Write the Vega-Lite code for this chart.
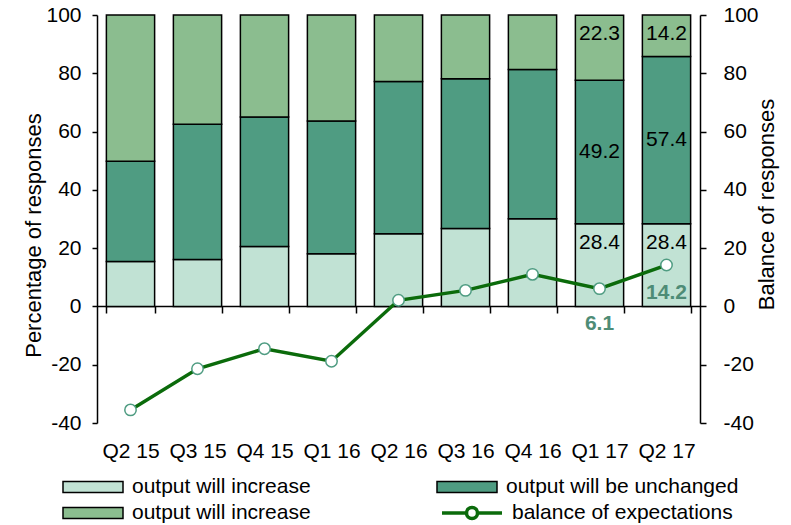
{
  "$schema": "https://vega.github.io/schema/vega-lite/v6.json",
  "width": 603,
  "height": 408,
  "autosize": {"type": "none"},
  "padding": {"left": 97, "top": 15, "right": 91, "bottom": 102},
  "background": "white",
  "config": {
    "font": "Liberation Sans",
    "view": {"stroke": null},
    "axis": {
      "labelFont": "Liberation Sans",
      "titleFont": "Liberation Sans",
      "labelColor": "black",
      "titleColor": "black",
      "domainColor": "black",
      "tickColor": "black",
      "grid": false,
      "labelFontSize": 21,
      "titleFontSize": 22,
      "titleFontWeight": "normal",
      "domainWidth": 1.5,
      "tickWidth": 1.5
    },
    "legend": {
      "labelFont": "Liberation Sans",
      "labelFontSize": 21,
      "labelColor": "black",
      "labelLimit": 0,
      "padding": 0
    }
  },
  "datasets": {
    "bars": [
      {"q": "Q2 15", "cat": "increase", "k": 1, "v": 15.4},
      {"q": "Q2 15", "cat": "unchanged", "k": 2, "v": 34.4},
      {"q": "Q2 15", "cat": "decrease", "k": 3, "v": 50.2},
      {"q": "Q3 15", "cat": "increase", "k": 1, "v": 16.1},
      {"q": "Q3 15", "cat": "unchanged", "k": 2, "v": 46.4},
      {"q": "Q3 15", "cat": "decrease", "k": 3, "v": 37.5},
      {"q": "Q4 15", "cat": "increase", "k": 1, "v": 20.6},
      {"q": "Q4 15", "cat": "unchanged", "k": 2, "v": 44.4},
      {"q": "Q4 15", "cat": "decrease", "k": 3, "v": 35.0},
      {"q": "Q1 16", "cat": "increase", "k": 1, "v": 18.1},
      {"q": "Q1 16", "cat": "unchanged", "k": 2, "v": 45.5},
      {"q": "Q1 16", "cat": "decrease", "k": 3, "v": 36.4},
      {"q": "Q2 16", "cat": "increase", "k": 1, "v": 24.9},
      {"q": "Q2 16", "cat": "unchanged", "k": 2, "v": 52.3},
      {"q": "Q2 16", "cat": "decrease", "k": 3, "v": 22.8},
      {"q": "Q3 16", "cat": "increase", "k": 1, "v": 26.7},
      {"q": "Q3 16", "cat": "unchanged", "k": 2, "v": 51.4},
      {"q": "Q3 16", "cat": "decrease", "k": 3, "v": 21.9},
      {"q": "Q4 16", "cat": "increase", "k": 1, "v": 30.1},
      {"q": "Q4 16", "cat": "unchanged", "k": 2, "v": 51.2},
      {"q": "Q4 16", "cat": "decrease", "k": 3, "v": 18.7},
      {"q": "Q1 17", "cat": "increase", "k": 1, "v": 28.4},
      {"q": "Q1 17", "cat": "unchanged", "k": 2, "v": 49.2},
      {"q": "Q1 17", "cat": "decrease", "k": 3, "v": 22.3},
      {"q": "Q2 17", "cat": "increase", "k": 1, "v": 28.4},
      {"q": "Q2 17", "cat": "unchanged", "k": 2, "v": 57.4},
      {"q": "Q2 17", "cat": "decrease", "k": 3, "v": 14.2}
    ],
    "bal": [
      {"q": "Q2 15", "b": -35.5},
      {"q": "Q3 15", "b": -21.4},
      {"q": "Q4 15", "b": -14.5},
      {"q": "Q1 16", "b": -18.8},
      {"q": "Q2 16", "b": 2.1},
      {"q": "Q3 16", "b": 5.5},
      {"q": "Q4 16", "b": 11.0},
      {"q": "Q1 17", "b": 6.1},
      {"q": "Q2 17", "b": 14.2}
    ]
  },
  "layer": [
    {
      "data": {"name": "bars"},
      "layer": [
        {
          "mark": {"type": "bar", "stroke": "black", "strokeWidth": 1.5},
          "encoding": {
            "x": {
              "field": "q", "type": "nominal", "sort": null,
              "scale": {"domain": ["Q2 15", "Q3 15", "Q4 15", "Q1 16", "Q2 16", "Q3 16", "Q4 16", "Q1 17", "Q2 17"], "paddingInner": 0.28, "paddingOuter": 0.14},
              "axis": {"title": null, "orient": "bottom", "offset": -117, "labelPadding": 127, "tickBand": "extent", "tickSize": 7, "labelAngle": 0}
            },
            "y": {
              "field": "v", "type": "quantitative", "stack": "zero",
              "scale": {"domain": [-40, 100], "nice": false},
              "axis": {"title": "Percentage of responses", "values": [-40, -20, 0, 20, 40, 60, 80, 100], "labelExpr": "datum.value < 0 ? '-' + abs(datum.value) : '' + datum.value", "tickSize": 5, "labelPadding": 11, "titleX": -64, "titleY": 220, "titleAngle": 270, "titleBaseline": "middle", "titleAlign": "center"}
            },
            "fill": {
              "field": "cat", "type": "nominal",
              "scale": {"domain": ["increase", "unchanged", "decrease"], "range": ["#c1e2d4", "#4f9c82", "#8bbd8f"]},
              "legend": {
                "title": null, "orient": "none", "direction": "horizontal", "legendX": -15, "legendY": 461,
                "columns": 2, "columnPadding": 123, "rowPadding": 5,
                "symbolType": "M-3,-0.55H3V0.55H-3Z", "symbolSize": 400,
                "symbolStrokeColor": "black", "symbolStrokeWidth": 1.5, "symbolOpacity": 1,
                "labelOffset": 28,
                "labelExpr": "datum.value == 'unchanged' ? 'output will be unchanged' : 'output will increase'"
              }
            },
            "order": {"field": "k", "type": "quantitative"}
          }
        },
        {
          "transform": [
            {"stack": "v", "groupby": ["q"], "sort": [{"field": "k", "order": "ascending"}], "as": ["y0", "y1"]},
            {"filter": "(datum.q == 'Q1 17' || datum.q == 'Q2 17') && datum.cat != 'unchanged'"}
          ],
          "mark": {"type": "text", "fontSize": 21, "color": "black", "baseline": "middle", "dy": 19},
          "encoding": {
            "x": {"field": "q", "type": "nominal", "sort": null},
            "y": {"field": "y1", "type": "quantitative", "title": "Percentage of responses"},
            "text": {"field": "v", "type": "quantitative", "format": ".1f"}
          }
        },
        {
          "transform": [
            {"stack": "v", "groupby": ["q"], "sort": [{"field": "k", "order": "ascending"}], "as": ["y0", "y1"]},
            {"filter": "(datum.q == 'Q1 17' || datum.q == 'Q2 17') && datum.cat == 'unchanged'"},
            {"calculate": "(datum.y0 + datum.y1) / 2", "as": "ym"}
          ],
          "mark": {"type": "text", "fontSize": 21, "color": "black", "baseline": "middle"},
          "encoding": {
            "x": {"field": "q", "type": "nominal", "sort": null},
            "y": {"field": "ym", "type": "quantitative", "title": "Percentage of responses"},
            "text": {"field": "v", "type": "quantitative", "format": ".1f"}
          }
        }
      ]
    },
    {
      "data": {"name": "bal"},
      "encoding": {
        "x": {"field": "q", "type": "nominal", "sort": null},
        "y": {
          "field": "b", "type": "quantitative",
          "scale": {"domain": [-40, 100], "nice": false},
          "axis": {"orient": "right", "title": "Balance of responses", "values": [-40, -20, 0, 20, 40, 60, 80, 100], "labelExpr": "datum.value < 0 ? '-' + abs(datum.value) : '' + datum.value", "tickSize": 6, "labelPadding": 17, "titleX": 66, "titleY": 189, "titleAngle": 270, "titleBaseline": "middle", "titleAlign": "center"}
        }
      },
      "layer": [
        {
          "mark": {"type": "line", "strokeWidth": 3.5},
          "encoding": {
            "stroke": {
              "datum": "balance of expectations", "type": "nominal",
              "scale": {"range": ["#0b6b0b"]},
              "legend": {
                "title": null, "orient": "none", "legendX": 363, "legendY": 486,
                "symbolType": "M-3,0H-0.55M0.55,0H3M-0.55,0A0.55,0.55 0 1,1 0.55,0A0.55,0.55 0 1,1 -0.55,0Z",
                "symbolSize": 400, "symbolFillColor": "white", "symbolStrokeColor": "#0b6b0b", "symbolStrokeWidth": 3.5, "symbolOpacity": 1,
                "labelOffset": 28
              }
            }
          }
        },
        {
          "mark": {"type": "point", "filled": true, "fill": "white", "stroke": "#4f9c82", "strokeWidth": 1.5, "size": 130, "opacity": 1}
        },
        {
          "transform": [{"filter": "datum.q == 'Q1 17'"}],
          "mark": {"type": "text", "fontSize": 21, "fontWeight": "bold", "color": "#4e8c76", "baseline": "middle", "dy": 35},
          "encoding": {"text": {"field": "b", "type": "quantitative", "format": ".1f"}}
        },
        {
          "transform": [{"filter": "datum.q == 'Q2 17'"}],
          "mark": {"type": "text", "fontSize": 21, "fontWeight": "bold", "color": "#4e8c76", "baseline": "middle", "dy": 28},
          "encoding": {"text": {"field": "b", "type": "quantitative", "format": ".1f"}}
        }
      ]
    }
  ],
  "resolve": {"scale": {"y": "independent"}}
}
